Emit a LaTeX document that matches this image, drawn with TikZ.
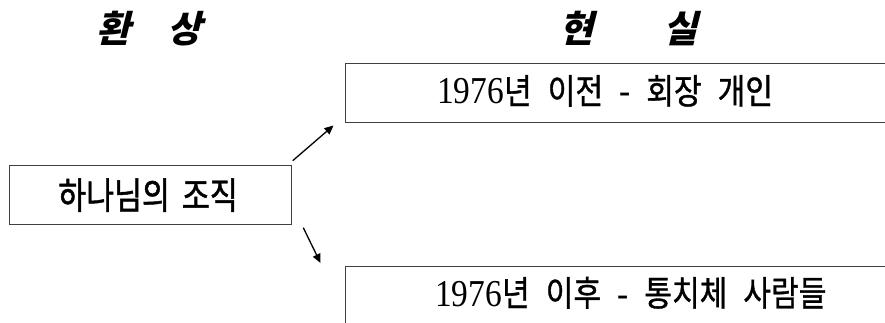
\documentclass[tikz,border=0pt]{standalone}
\usepackage{fontspec}
\setmainfont{Liberation Serif}[FakeStretch=0.88]
\newfontfamily\kr{Noto Sans CJK KR}[FakeStretch=0.86,FakeBold=1]
\newfontfamily\krl{Noto Sans CJK KR}[FakeStretch=0.82,FakeBold=1.2]
\newfontfamily\krt{Noto Sans CJK KR}[FakeSlant=0.25]
\usetikzlibrary{arrows.meta}
\tikzset{
  box/.style={draw=black!75, line width=1.3pt, inner sep=0pt, rectangle},
  txt/.style={inner sep=0pt, font=\fontsize{38}{40}\selectfont},
  title/.style={inner sep=0pt, font=\krt\bfseries\fontsize{37}{39}\selectfont},
  arr/.style={line width=1.3pt, -{Triangle[length=9pt,width=8pt]}}
}
\newcommand{\K}[1]{{\kr\fontsize{35}{37}\selectfont #1}}
\newcommand{\SP}{\hspace{16pt}}
\begin{document}
\begin{tikzpicture}[x=1pt,y=-1pt]
\useasboundingbox (0,0) rectangle (885,323);
\clip (0,0) rectangle (885,323);
% titles
\node[title, anchor=base] (t1) at (114,43) {환};
\node[title, anchor=base] (t2) at (185,43) {상};
\node[title, anchor=base] (t3) at (577,43) {현};
\node[title, anchor=base] (t4) at (681,43) {실};
% boxes
\node[box, anchor=north west, minimum width=282pt, minimum height=58.5pt] (left) at (8.7,165) {};
\node[box, anchor=north west, minimum width=570pt, minimum height=59pt] (top) at (345,63) {};
\node[box, anchor=north west, minimum width=570pt, minimum height=80pt] (bot) at (345,265.5) {};
% texts
\node[inner sep=0pt, anchor=base, font=\krl\fontsize{37}{39}\selectfont] (lefttext) at (148,209) {하나님의\hspace{12pt}조직};
\node[txt, anchor=base west] (toptext) at (437,104) {1976\K{년}\SP\K{이전}\SP-\SP\K{회장}\SP\K{개인}};
\node[txt, anchor=base west] (bottext) at (435,306) {1976\K{년}\SP\K{이후}\SP-\SP\K{통치체}\SP\K{사람들}};
% arrows
\coordinate (a1s) at (292.7,160.7);
\coordinate (a1e) at (333.5,125.5);
\coordinate (a2s) at (303.3,227.7);
\coordinate (a2e) at (320.5,263);
\draw[arr] (a1s) -- (a1e);
\draw[arr] (a2s) -- (a2e);
\end{tikzpicture}
\end{document}
